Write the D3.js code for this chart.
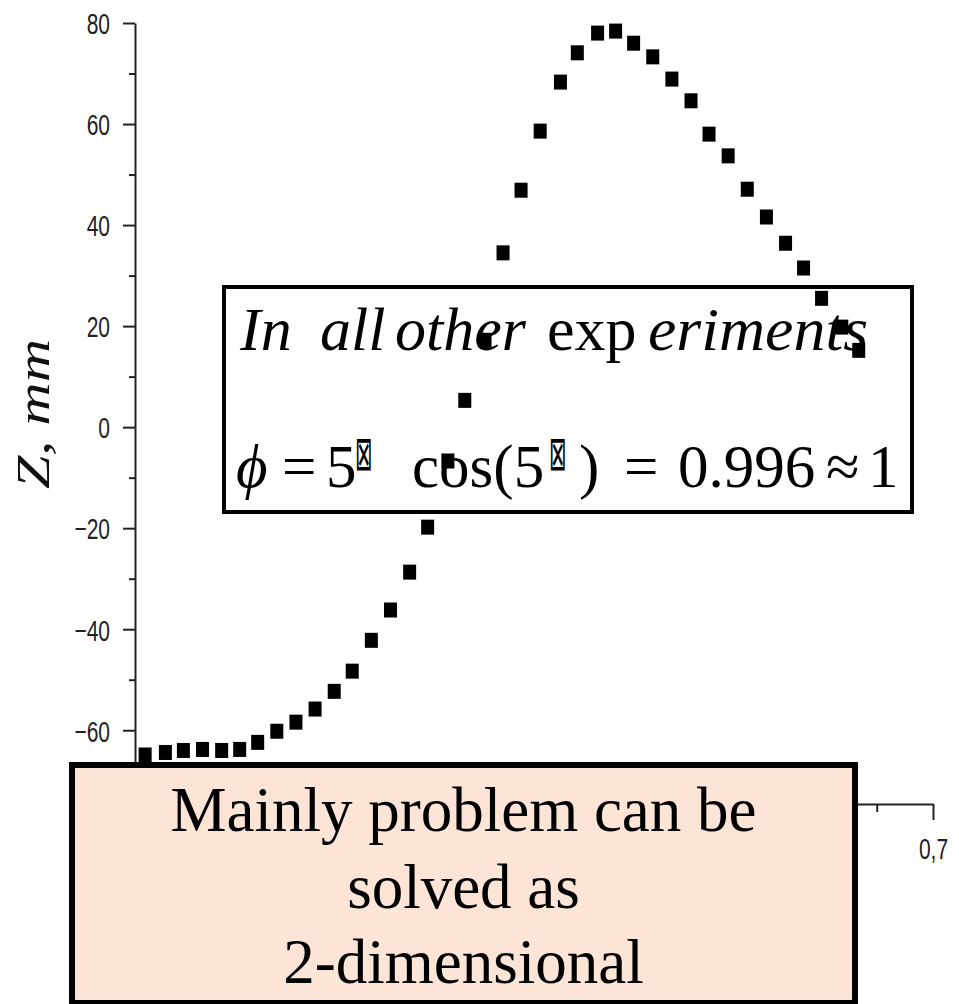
<!DOCTYPE html>
<html><head><meta charset="utf-8">
<script src="https://cdn.jsdelivr.net/npm/d3@7"></script>
<style>body{margin:0;background:#fff} svg{display:block}</style>
</head><body><svg id="c" width="959" height="1004"></svg>
<script>
// ---- data ----
const xValues = [0.000,0.018,0.034,0.051,0.068,0.084,0.100,0.117,0.134,0.151,0.168,0.184,0.201,0.218,0.235,0.251,0.269,0.284,0.302,0.318,0.334,0.351,0.369,0.384,0.402,0.418,0.434,0.451,0.468,0.485,0.501,0.518,0.535,0.552,0.569,0.585,0.601,0.619,0.634];
const zValues = [-64.9,-64.4,-64.0,-63.8,-64.0,-63.8,-62.4,-60.2,-58.4,-55.8,-52.3,-48.3,-42.2,-36.2,-28.7,-19.8,-6.7,5.3,17.2,34.5,46.9,58.6,68.3,74.1,78.0,78.4,76.0,73.3,68.9,64.6,58.0,53.7,47.1,41.6,36.4,31.5,25.5,19.8,15.2];
const yMajorTicks = [-60,-40,-20,0,20,40,60,80];
const yMinorTicks = [-70,-50,-30,-10,10,30,50,70];
const xMajorTicks = [0,0.1,0.2,0.3,0.4,0.5,0.6,0.7];
const xMinorTicks = [0.05,0.15,0.25,0.35,0.45,0.55,0.65];
const yLabel = "Z, mm";
const note1Words = [
  {t:"In", it:true}, {t:"all", it:true}, {t:"other", it:true}, {t:"exp", it:false}, {t:"eriments", it:true}
];
const note1Pos = [240,320,395,547,648];
const note2Parts = ["\u03D5","=","5","cos(5",")","=","0.996","\u2248","1"];
const note2Pos = [236,282,326,412,579,624,678,826,868];
const tofuChar = "\u22A0";
const tofuPos = [355,549];
const note3Lines = ["Mainly problem can be","solved as","2-dimensional"];

// ---- drawing ----
const svg = d3.select("#c");
svg.append("rect").attr("width",959).attr("height",1004).attr("fill","#fff");

const x = d3.scaleLinear().domain([-0.009,0.7]).range([135,933]);
const y = d3.scaleLinear().domain([-74.6,80]).range([804,23]);
const axisColor = "#222";
const sx = 0.7;
const sans = "Liberation Sans, Arial, sans-serif";
const serif = "Liberation Serif, Times New Roman, serif";
const box2 = {x:72, y:765, w:783, h:238};

// y axis
const gy = svg.append("g").attr("transform","translate(135,0)");
gy.call(d3.axisLeft(y).tickValues(yMajorTicks).tickSize(12).tickSizeOuter(0).tickFormat(d3.format("d")));
gy.selectAll("text").attr("x",-25/sx).attr("transform",`scale(${sx},1)`)
  .attr("font-family",sans).attr("font-size",30).attr("fill","#222").attr("dy","0.36em");
const gym = svg.append("g").attr("transform","translate(135,0)");
gym.call(d3.axisLeft(y).tickValues(yMinorTicks).tickSize(6).tickFormat(""));
gym.select(".domain").remove();

// x axis
const gx = svg.append("g").attr("transform","translate(0,804)");
gx.call(d3.axisBottom(x).tickValues(xMajorTicks).tickSize(16).tickSizeOuter(0).tickPadding(18)
  .tickFormat(d => d3.format(".1f")(d).replace(".",",")));
gx.selectAll("text").attr("transform",`scale(${sx},1)`).attr("x",0)
  .attr("font-family",sans).attr("font-size",30).attr("fill","#222");
// labels that sit fully under the opaque note box are not visible: drop them
gx.selectAll(".tick").filter(d => x(d) < box2.x + box2.w + 6).select("text").remove();
const gxm = svg.append("g").attr("transform","translate(0,804)");
gxm.call(d3.axisBottom(x).tickValues(xMinorTicks).tickSize(8).tickFormat(""));
gxm.select(".domain").remove();

svg.selectAll(".domain").attr("stroke",axisColor).attr("stroke-width",2);
svg.selectAll(".tick line").attr("stroke",axisColor).attr("stroke-width",2);

// y label
svg.append("text").attr("transform","translate(49,414) rotate(-90)")
  .attr("text-anchor","middle").attr("font-family",serif)
  .attr("font-style","italic").attr("font-size",46).attr("textLength",150).attr("lengthAdjust","spacingAndGlyphs")
  .attr("fill","#111").text(yLabel);

// points
const pts = xValues.map((v,i)=>({x:v,z:zValues[i]}));
svg.append("g").selectAll("rect").data(pts).join("rect")
  .attr("x",d=>x(d.x)-6.5).attr("y",d=>y(d.z)-7.5).attr("width",13).attr("height",15).attr("fill","#000");

// note box 1
svg.append("rect").attr("x",224).attr("y",287).attr("width",688).attr("height",225)
  .attr("fill","none").attr("stroke","#000").attr("stroke-width",4);
note1Words.forEach((w,i)=>{
  const t = svg.append("text").attr("x",note1Pos[i]).attr("y",350).attr("font-family",serif).attr("font-size",62)
    .attr("font-style",w.it?"italic":"normal").attr("fill","#000").text(w.t);
  if (w.t === "eriments") t.attr("textLength",220).attr("lengthAdjust","spacingAndGlyphs");
});
note2Parts.forEach((p,i)=>{
  svg.append("text").attr("x",note2Pos[i]).attr("y",487).attr("font-family",serif).attr("font-size",61)
    .attr("font-style",i===0?"italic":"normal").attr("fill","#000").text(p);
});
tofuPos.forEach(px=>{
  svg.append("text").attr("transform",`translate(${px},470) scale(0.5,1.15)`)
    .attr("font-family","DejaVu Sans, sans-serif").attr("font-size",42).attr("fill","#000").text(tofuChar);
});

// note box 2
svg.append("rect").attr("x",box2.x).attr("y",box2.y).attr("width",box2.w).attr("height",box2.h)
  .attr("fill","#FCE4D6").attr("stroke","#000").attr("stroke-width",6);
const t3 = svg.append("text").attr("font-family",serif).attr("font-size",63).attr("fill","#000").attr("text-anchor","middle");
const base3 = [831,908,983];
note3Lines.forEach((l,i)=>{
  t3.append("tspan").attr("x",box2.x + box2.w/2).attr("y",base3[i]).text(l);
});
</script></body></html>
